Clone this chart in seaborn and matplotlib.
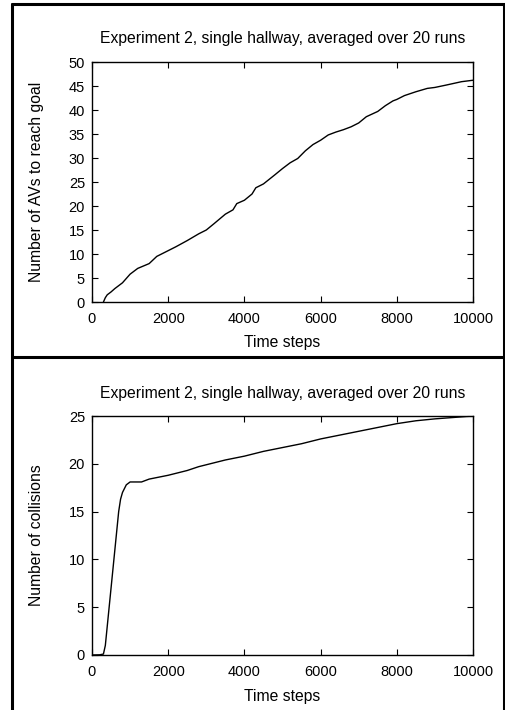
import matplotlib
matplotlib.use("Agg")
import matplotlib.pyplot as plt
from matplotlib.lines import Line2D
import seaborn as sns
import pandas as pd

title = "Experiment 2, single hallway, averaged over 20 runs"

steps_goal = [300, 350, 400, 500, 600, 800, 1000, 1200, 1500, 1700, 2000, 2200, 2500, 2800,
              3000, 3200, 3500, 3700, 3800, 4000, 4200, 4300, 4500, 4800, 5000, 5200, 5400,
              5600, 5800, 6000, 6200, 6400, 6600, 6800, 7000, 7200, 7500, 7700, 7900, 8000,
              8200, 8500, 8800, 9000, 9300, 9700, 10000]
avs_goal = [0.0, 0.9, 1.5, 2.1, 2.8, 4.0, 5.8, 7.0, 8.0, 9.5, 10.7, 11.5, 12.8, 14.2,
            15.0, 16.3, 18.3, 19.2, 20.5, 21.2, 22.5, 23.8, 24.6, 26.5, 27.8, 29.0, 29.9,
            31.5, 32.8, 33.7, 34.8, 35.4, 35.9, 36.5, 37.3, 38.6, 39.7, 40.9, 41.9, 42.2,
            43.0, 43.8, 44.5, 44.7, 45.2, 45.9, 46.2]

steps_coll = [0, 200, 300, 350, 400, 500, 600, 700, 750, 800, 900, 1000, 1300, 1500, 2000,
              2500, 2800, 3000, 3500, 4000, 4500, 5000, 5500, 6000, 6500, 7000, 7500, 8000,
              8500, 9000, 9500, 10000]
collisions = [0.0, 0.02, 0.1, 1.0, 3.0, 7.0, 11.0, 15.0, 16.3, 17.0, 17.8, 18.1, 18.1, 18.4,
              18.8, 19.3, 19.7, 19.9, 20.4, 20.8, 21.3, 21.7, 22.1, 22.6, 23.0, 23.4, 23.8,
              24.2, 24.5, 24.7, 24.85, 25.0]

sns.set_style("ticks")
plt.rcParams['font.family'] = ['Liberation Sans', 'DejaVu Sans']
plt.rcParams['text.color'] = 'black'
plt.rcParams['axes.labelcolor'] = 'black'

fig = plt.figure(figsize=(5.05, 7.10), dpi=100)
W, H = 505, 710

def add_ax(left, top, right, bottom):
    return fig.add_axes([left / W, 1 - bottom / H, (right - left) / W, (bottom - top) / H])

ax1 = add_ax(92, 62, 473, 302)
ax2 = add_ax(92, 416, 473, 655)

df1 = pd.DataFrame({"step": steps_goal, "val": avs_goal})
df2 = pd.DataFrame({"step": steps_coll, "val": collisions})
sns.lineplot(data=df1, x="step", y="val", ax=ax1, color="black", linewidth=1.0)
sns.lineplot(data=df2, x="step", y="val", ax=ax2, color="black", linewidth=1.0)

for ax, ylab, ymax, yt, tpad, xly in [
        (ax1, "Number of AVs to reach goal", 50, range(0, 51, 5), 14, -0.1375),
        (ax2, "Number of collisions", 25, range(0, 26, 5), 13.3, -0.142)]:
    ax.set_xlim(0, 10000)
    ax.set_ylim(0, ymax)
    ax.set_xticks(range(0, 10001, 2000))
    ax.set_yticks(list(yt))
    ax.tick_params(direction="in", top=True, right=True, length=4, width=0.8,
                   labelsize=10.5, colors="black")
    ax.tick_params(axis="x", pad=7)
    ax.tick_params(axis="y", pad=5)
    for s in ax.spines.values():
        s.set_visible(True)
        s.set_linewidth(1.0)
        s.set_color("black")
    ax.set_xlabel("Time steps", fontsize=11.3, color="black")
    ax.set_ylabel(ylab, fontsize=11.3, color="black")
    ax.xaxis.set_label_coords(0.5, xly)
    ax.yaxis.set_label_coords(-0.126, 0.5)
    ax.set_title(title, fontsize=11.3, pad=tpad, color="black")

# outer frame lines
lw = 2.2
fig.add_artist(Line2D([12 / W, 12 / W], [0, 1 - 4 / H], color="black", linewidth=lw, transform=fig.transFigure))
fig.add_artist(Line2D([12 / W, 1], [1 - 4 / H, 1 - 4 / H], color="black", linewidth=lw, transform=fig.transFigure))
fig.add_artist(Line2D([12 / W, 1], [1 - 357 / H, 1 - 357 / H], color="black", linewidth=lw, transform=fig.transFigure))
fig.add_artist(Line2D([503.5 / W, 503.5 / W], [0, 1 - 4 / H], color="black", linewidth=lw, transform=fig.transFigure))

fig.savefig("out.png", dpi=100)
